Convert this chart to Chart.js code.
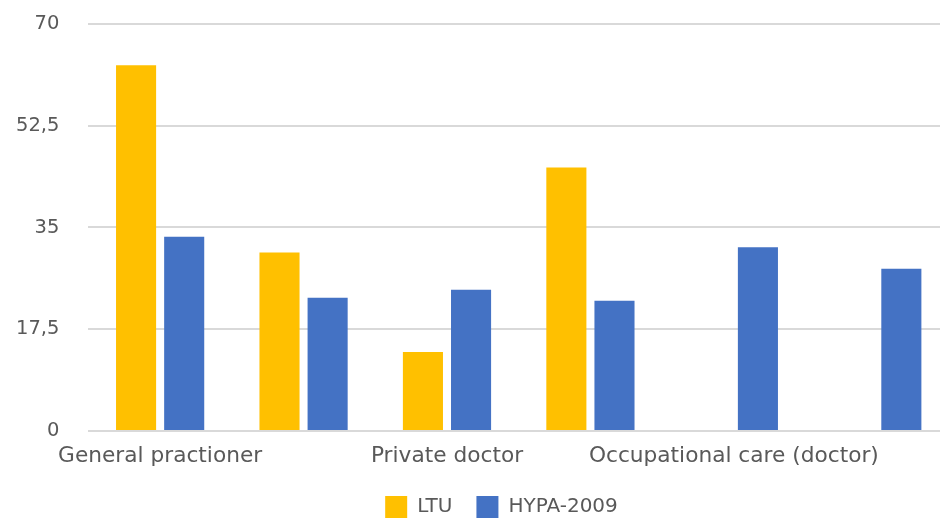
<!DOCTYPE html>
<html>
<head>
<meta charset="utf-8">
<script src="https://cdn.jsdelivr.net/npm/chart.js@4"></script>
<style>
html,body{margin:0;padding:0;background:#fff;overflow:hidden;width:940px;height:518px;}
#wrap{width:950px;height:518px;}
</style>
</head>
<body>
<div id="wrap"><canvas id="c" width="950" height="518"></canvas></div>
<script>
const categories = ["General practioner", "Health centre nurse", "Private doctor", "Specialist", "Occupational care (doctor)", "Occupational care (nurse)"];
const shownLabels = [true, false, true, false, true, false];
const ltuValues = [62.9, 30.7, 13.6, 45.3, null, null];
const hypaValues = [33.4, 22.9, 24.3, 22.4, 31.6, 27.9];
const yTicks = [0, 17.5, 35, 52.5, 70];

const legendShift = {
  id: 'legendShift',
  afterLayout(chart) {
    const l = chart.legend;
    if (l) { l.left += 19; l.right += 19; }
  }
};

new Chart(document.getElementById('c'), {
  type: 'bar',
  data: {
    labels: categories,
    datasets: [
      { label: 'LTU', data: ltuValues, backgroundColor: '#FFC000', categoryPercentage: 0.671, barPercentage: 0.833 },
      { label: 'HYPA-2009', data: hypaValues, backgroundColor: '#4472C4', categoryPercentage: 0.671, barPercentage: 0.833 }
    ]
  },
  options: {
    responsive: false,
    animation: false,
    devicePixelRatio: 1,
    layout: { autoPadding: false, padding: { top: 24, left: 16, right: 1, bottom: -10 } },
    plugins: {
      legend: {
        position: 'bottom',
        labels: {
          boxWidth: 22, boxHeight: 22, padding: 24,
          color: '#595959',
          font: { family: 'DejaVu Sans', size: 20 }
        }
      },
      tooltip: { enabled: false }
    },
    scales: {
      x: {
        grid: { display: false, drawTicks: false },
        border: { display: false },
        afterFit: function(axis) { axis.height -= 9; },
        ticks: {
          autoSkip: false, maxRotation: 0, minRotation: 0, padding: 12,
          color: '#595959',
          font: { family: 'DejaVu Sans', size: 21.7 },
          callback: function(v, i) { return shownLabels[i] ? categories[i] : ''; }
        }
      },
      y: {
        min: 0, max: 70,
        afterBuildTicks: function(axis) { axis.ticks = yTicks.map(v => ({ value: v })); },
        afterFit: function(axis) { axis.width -= 29; axis.paddingTop = 0; axis.paddingBottom = 0; },
        grid: { color: '#d9d9d9', lineWidth: 2, drawTicks: false },
        border: { display: false },
        ticks: {
          padding: 29,
          color: '#595959',
          font: { family: 'DejaVu Sans', size: 19.5 },
          callback: function(v) { return String(v).replace('.', ','); }
        }
      }
    }
  },
  plugins: [legendShift]
});
</script>
</body>
</html>
